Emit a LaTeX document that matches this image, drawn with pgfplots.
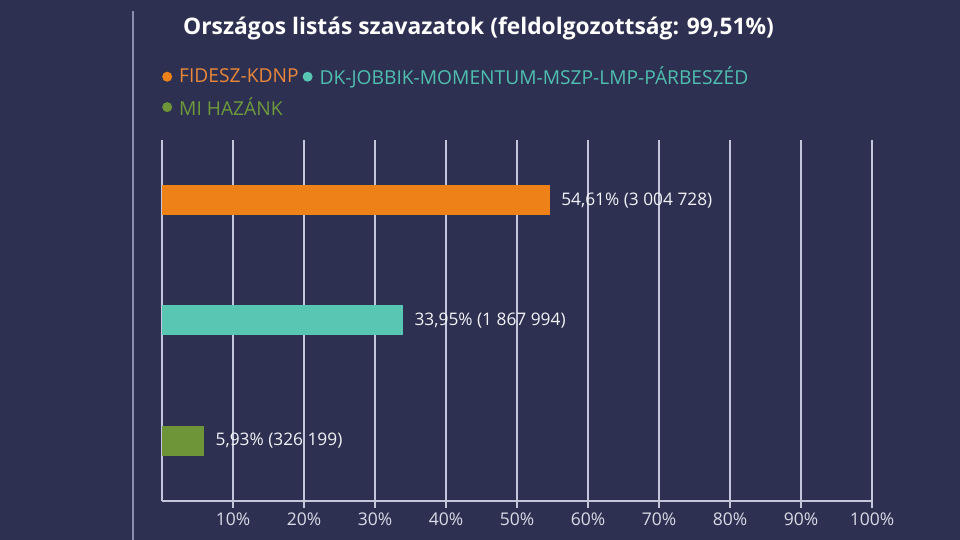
\documentclass[border=0pt]{standalone}
\usepackage{pgfplots}
\pgfplotsset{compat=1.18}
\usepackage{fontspec}
\setmainfont{Open Sans}
\definecolor{bg}{HTML}{2D3050}
\definecolor{gridc}{HTML}{C4C7DC}
\definecolor{sidec}{HTML}{8A8EAA}
\definecolor{cfid}{HTML}{EE8218}
\definecolor{cdk}{HTML}{58C6B2}
\definecolor{cmi}{HTML}{6E9638}
\definecolor{cfidt}{HTML}{E9873A}
\definecolor{cdkt}{HTML}{4FBFB0}
\definecolor{cmit}{HTML}{6E9A3C}
\definecolor{labc}{HTML}{F2F2F7}
\definecolor{tickc}{HTML}{D9DBE8}
\begin{document}
\begin{tikzpicture}[x=1pt,y=1pt]
\fill[bg] (0,0) rectangle (960,540);
\useasboundingbox (0,0) rectangle (960,540);
\draw[sidec, line width=1.2pt] (133,0) -- (133,529);
\node[anchor=base west, inner sep=0pt, text=white, font=\bfseries\fontsize{22.8}{27}\selectfont]
  at (183,505) {Országos listás szavazatok (feldolgozottság: 99,51\%)};
\begin{axis}[
    at={(162pt,39pt)}, anchor=south west,
    scale only axis, width=710pt, height=361pt,
    xbar, bar width=30pt, bar shift=0pt,
    xmin=0, xmax=100, ymin=0.5, ymax=3.5,
    axis lines*=left,
    axis line style={gridc, line width=1.2pt},
    ytick=\empty,
    xtick={10,20,...,100},
    xticklabel={\pgfmathprintnumber{\tick}\%},
    /pgf/number format/assume math mode=true,
    xticklabel style={text=tickc, font=\fontsize{17.5}{21}\selectfont, yshift=-1pt},
    tick align=outside, major tick length=7pt,
    tick style={gridc, line width=1.2pt},
    xmajorgrids, grid style={gridc, line width=1.2pt},
    mylegend/.style={legend image code/.code={\fill[##1, draw=none] (5pt,0pt) circle (5pt);}},
    legend columns=2,
    legend cell align=left,
    legend style={draw=none, fill=none, at={(0,1)}, anchor=south west,
      xshift=-3pt, yshift=19pt,
      font=\fontsize{19.2}{23}\selectfont,
      /tikz/every odd column/.append style={column sep=5pt},
      /tikz/every even column/.append style={column sep=2pt},
      row sep=7pt},
    nodes near coords,
    point meta=explicit symbolic,
    nodes near coords style={anchor=west, text=labc, font=\fontsize{17.3}{21}\selectfont, xshift=8pt},
]
\addplot[fill=cfid, draw=none, mylegend] coordinates {(54.61,3) [54,61\% (3 004 728)]};
\addlegendentry{\textcolor{cfidt}{FIDESZ-KDNP}}
\addplot[fill=cdk, draw=none, mylegend] coordinates {(33.95,2) [33,95\% (1 867 994)]};
\addlegendentry{\textcolor{cdkt}{DK-JOBBIK-MOMENTUM-MSZP-LMP-PÁRBESZÉD}}
\addplot[fill=cmi, draw=none, mylegend] coordinates {(5.93,1) [5,93\% (326 199)]};
\addlegendentry{\textcolor{cmit}{MI HAZÁNK}}
\end{axis}
\end{tikzpicture}
\end{document}
